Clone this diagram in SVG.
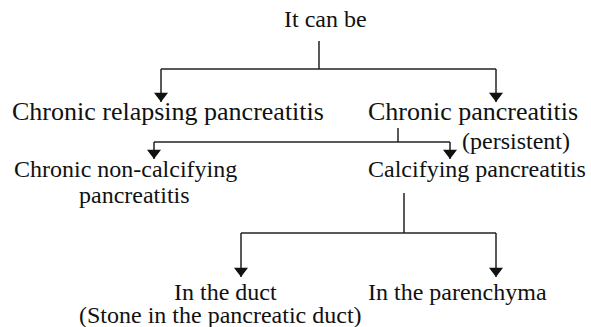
<svg xmlns="http://www.w3.org/2000/svg" width="591" height="327" viewBox="0 0 591 327">
<defs>
<style>
text{font-family:"Liberation Serif","Times New Roman","DejaVu Serif",serif;fill:#111}
.l1{font-size:26px}
.l2{font-size:24px}
.c{stroke:#222;stroke-width:1.5;fill:none}
</style>
<marker id="ah" markerUnits="userSpaceOnUse" markerWidth="10" markerHeight="14" refX="8" refY="6" orient="auto" viewBox="0 0 8 12">
<path d="M0,0 L8,6 L0,12 Z" fill="#111"/>
</marker>
</defs>
<rect width="591" height="327" fill="#fff"/>
<g id="connectors">
<path class="c" d="M319,41 V69"/>
<path class="c" d="M161,69 H496"/>
<path class="c" d="M161,69 V102" marker-end="url(#ah)"/>
<path class="c" d="M496,69 V102" marker-end="url(#ah)"/>
<path class="c" d="M398,128 V142"/>
<path class="c" d="M154,142 H450"/>
<path class="c" d="M154,142 V159" marker-end="url(#ah)"/>
<path class="c" d="M450,142 V159" marker-end="url(#ah)"/>
<path class="c" d="M404,193 V233"/>
<path class="c" d="M241,233 H496"/>
<path class="c" d="M241,233 V277" marker-end="url(#ah)"/>
<path class="c" d="M496,233 V277" marker-end="url(#ah)"/>
</g>
<g id="root" font-family="Liberation Serif, serif"><text class="l2" x="284" y="27">It can be</text></g>
<g id="relapsing" font-family="Liberation Serif, serif"><text class="l1" x="12" y="120">Chronic relapsing pancreatitis</text></g>
<g id="chronic" font-family="Liberation Serif, serif"><text class="l1" x="368" y="120">Chronic pancreatitis</text><text class="l2" x="462" y="149">(persistent)</text></g>
<g id="noncalc" font-family="Liberation Serif, serif"><text class="l2" x="14" y="177">Chronic non-calcifying</text><text class="l2" x="79" y="203">pancreatitis</text></g>
<g id="calc" font-family="Liberation Serif, serif"><text class="l2" x="368" y="177">Calcifying pancreatitis</text></g>
<g id="duct" font-family="Liberation Serif, serif"><text class="l2" x="174" y="300">In the duct</text><text class="l2" x="79" y="323">(Stone in the pancreatic duct)</text></g>
<g id="parenchyma" font-family="Liberation Serif, serif"><text class="l2" x="368" y="300">In the parenchyma</text></g>
</svg>
